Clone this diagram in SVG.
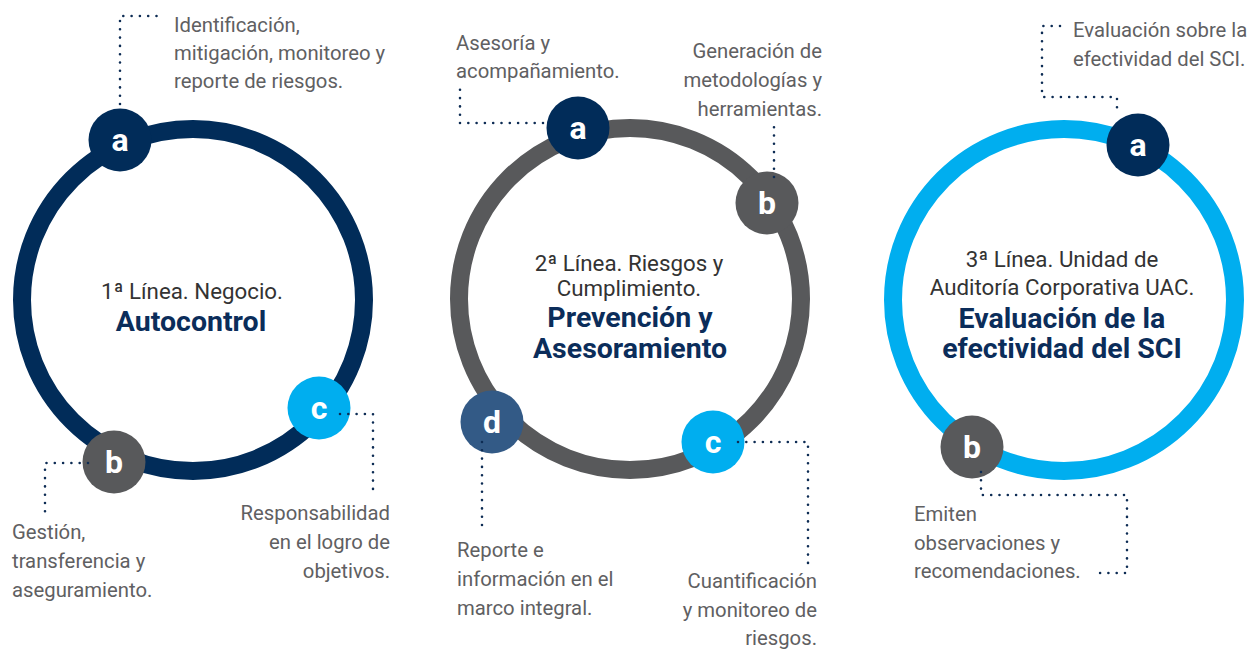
<svg xmlns="http://www.w3.org/2000/svg" width="1255" height="650" viewBox="0 0 1255 650">
<style>
.ring{fill:none;stroke-width:18}
.badge-t{font-family:Roboto,"Liberation Sans",sans-serif;font-weight:700;font-size:32px;fill:#fff;text-anchor:middle}
.desc{font-family:Roboto,"Liberation Sans",sans-serif;font-size:20.3px;fill:#5f6062}
.end{text-anchor:end}
.title{font-family:Roboto,"Liberation Sans",sans-serif;font-size:22.3px;fill:#333;text-anchor:middle}
.bold{font-family:Roboto,"Liberation Sans",sans-serif;font-size:28.5px;font-weight:700;fill:#0b2d5a;text-anchor:middle}
.dot{fill:none;stroke:#0d2c54;stroke-width:2.6;stroke-linecap:round;stroke-dasharray:0 8.3}
</style>
<rect width="1255" height="650" fill="#fff"/>
<g id="linea1">
<circle class="ring" cx="193" cy="300" r="171" stroke="#012c59"/>
<text class="title" x="192" y="299">1ª Línea. Negocio.</text>
<text class="bold" x="191" y="331">Autocontrol</text>
</g>
<g id="linea2">
<circle class="ring" cx="630" cy="299" r="171" stroke="#58595b"/>
<text class="title" x="629" y="271">2ª Línea. Riesgos y</text>
<text class="title" x="629" y="296">Cumplimiento.</text>
<text class="bold" x="630" y="327">Prevención y</text>
<text class="bold" x="630" y="358">Asesoramiento</text>
</g>
<g id="linea3">
<circle class="ring" cx="1064" cy="300" r="171" stroke="#00aeef"/>
<text class="title" x="1062" y="267">3ª Línea. Unidad de</text>
<text class="title" x="1062" y="295">Auditoría Corporativa UAC.</text>
<text class="bold" x="1062" y="328">Evaluación de la</text>
<text class="bold" x="1062" y="358">efectividad del SCI</text>
</g>
<g id="l1-a">
<circle cx="120" cy="140" r="31.5" fill="#012c59"/>
<text class="badge-t" x="120" y="151">a</text>
<text class="desc" x="174" y="32">Identificación,</text>
<text class="desc" x="174" y="60">mitigación, monitoreo y</text>
<text class="desc" x="174" y="88">reporte de riesgos.</text>
</g>
<g id="l1-b">
<circle cx="114" cy="462" r="31.5" fill="#58595b"/>
<text class="badge-t" x="114" y="473">b</text>
<text class="desc" x="12" y="539">Gestión,</text>
<text class="desc" x="12" y="568">transferencia y</text>
<text class="desc" x="12" y="597">aseguramiento.</text>
</g>
<g id="l1-c">
<circle cx="319" cy="408" r="31.5" fill="#00aeef"/>
<text class="badge-t" x="319" y="419">c</text>
<text class="desc end" x="390" y="520">Responsabilidad</text>
<text class="desc end" x="390" y="549">en el logro de</text>
<text class="desc end" x="390" y="578">objetivos.</text>
</g>
<g id="l2-a">
<circle cx="578" cy="128" r="31.5" fill="#012c59"/>
<text class="badge-t" x="578" y="139">a</text>
<text class="desc" x="456" y="50">Asesoría y</text>
<text class="desc" x="456" y="78">acompañamiento.</text>
</g>
<g id="l2-b">
<circle cx="767" cy="203" r="31.5" fill="#58595b"/>
<text class="badge-t" x="767" y="214">b</text>
<text class="desc end" x="822" y="58">Generación de</text>
<text class="desc end" x="822" y="87">metodologías y</text>
<text class="desc end" x="822" y="116">herramientas.</text>
</g>
<g id="l2-c">
<circle cx="713" cy="442" r="31.5" fill="#00aeef"/>
<text class="badge-t" x="713" y="453">c</text>
<text class="desc end" x="817" y="588">Cuantificación</text>
<text class="desc end" x="817" y="617">y monitoreo de</text>
<text class="desc end" x="817" y="645">riesgos.</text>
</g>
<g id="l2-d">
<circle cx="492" cy="422" r="31.5" fill="#335a86"/>
<text class="badge-t" x="492" y="433">d</text>
<text class="desc" x="457" y="557">Reporte e</text>
<text class="desc" x="457" y="586">información en el</text>
<text class="desc" x="457" y="615">marco integral.</text>
</g>
<g id="l3-a">
<circle cx="1138" cy="145" r="31.5" fill="#012c59"/>
<text class="badge-t" x="1138" y="156">a</text>
<text class="desc" x="1073" y="37">Evaluación sobre la</text>
<text class="desc" x="1073" y="66">efectividad del SCI.</text>
</g>
<g id="l3-b">
<circle cx="972" cy="447" r="31.5" fill="#58595b"/>
<text class="badge-t" x="972" y="458">b</text>
<text class="desc" x="914" y="521">Emiten</text>
<text class="desc" x="914" y="550">observaciones y</text>
<text class="desc" x="914" y="578">recomendaciones.</text>
</g>
<g id="connectors">
<path class="dot" d="M120 104 V16 H164"/>
<path class="dot" d="M88 463 H45 V516"/>
<path class="dot" d="M340 414 H373 V489"/>
<path class="dot" d="M543 123 H460 V85"/>
<path class="dot" d="M774 177 V124"/>
<path class="dot" d="M482 442 V527"/>
<path class="dot" d="M738 442 H808 V564"/>
<path class="dot" d="M1060 26 H1042 V97 H1117 V115"/>
<path class="dot" d="M981 472 V495 H1127 V573 H1092"/>
</g>
</svg>
